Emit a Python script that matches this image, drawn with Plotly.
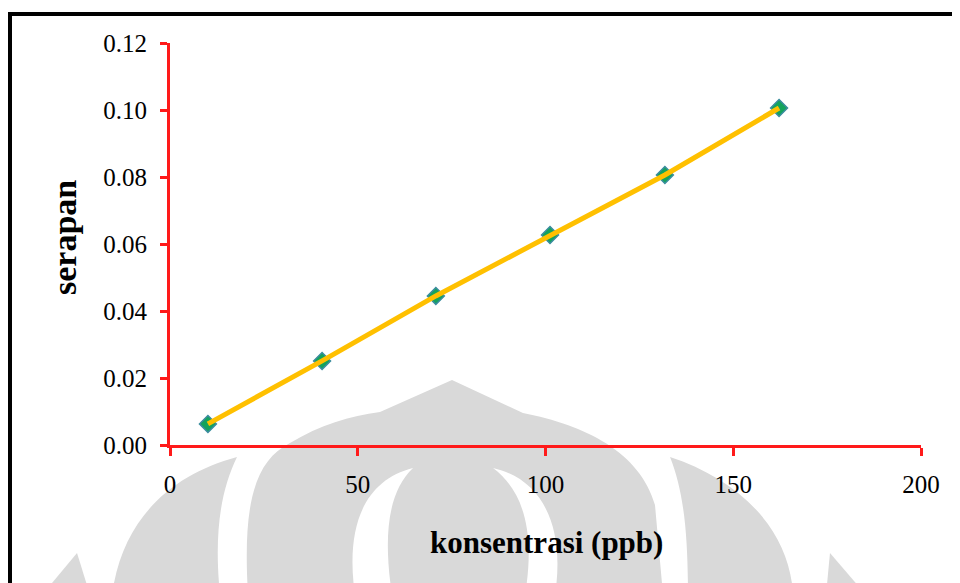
import plotly.graph_objects as go

# ---- data ----
konsentrasi = [10.1, 40.5, 70.8, 101.2, 131.8, 162.2]
serapan = [0.0063, 0.0251, 0.0445, 0.0627, 0.0806, 0.1006]
x_ticks = [0, 50, 100, 150, 200]
y_ticks = [0.00, 0.02, 0.04, 0.06, 0.08, 0.10, 0.12]
y_tick_text = ["0.00", "0.02", "0.04", "0.06", "0.08", "0.10", "0.12"]

OFF = 8  # page body margin in the browser
W, H = 960 - OFF, 583 - OFF
# plot area in reference-image pixels: x 170..921, y 43..445
L, R, T, B = 170 - OFF, W - (921 - OFF), 43 - OFF, H - (445 - OFF)
PW, PH = W - L - R, H - T - B


def px2paper_x(px):
    return (px - OFF - L) / PW


def px2paper_y(py):
    return (H - B - (py - OFF)) / PH


def P(px, py):
    return f"{px2paper_x(px):.4f},{px2paper_y(py):.4f}"


def path(cmds):
    return " ".join(c if isinstance(c, str) else P(*c) for c in cmds)


GRAY = "#d9d9d9"
shapes = []
# watermark (decorative), reference-image pixel coordinates
wm = [
    (["M", (452, 380), "L", (523, 413), "C", (585, 425), (640, 452), (655, 505),
      "L", (663, 595), "L", (248, 595), "C", (243, 510), (252, 462), (290, 443),
      "C", (320, 425), (350, 416), (380, 412), "Z"], GRAY),
    (["M", (413, 468), "C", (365, 480), (345, 525), (355, 595), "L", (392, 595),
      "C", (383, 535), (388, 492), (413, 468), "Z"], "white"),
    (["M", (493, 468), "C", (545, 480), (565, 530), (555, 595), "L", (525, 595),
      "C", (535, 535), (525, 492), (493, 468), "Z"], "white"),
    (["M", (237, 457), "C", (170, 475), (122, 520), (112, 595), "L", (220, 595),
      "C", (214, 535), (220, 492), (237, 457), "Z"], GRAY),
    (["M", (77, 553), "L", (90, 595), "L", (42, 595), "Z"], GRAY),
    (["M", (670, 457), "C", (740, 480), (790, 530), (793, 595), "L", (688, 595),
      "C", (688, 535), (684, 492), (670, 457), "Z"], GRAY),
    (["M", (830, 553), "L", (866, 595), "L", (826, 595), "Z"], GRAY),
]
for cmds, col in wm:
    shapes.append(dict(type="path", xref="paper", yref="paper", path=path(cmds),
                       fillcolor=col, line=dict(width=0), layer="below"))

# black frame (top and left)
shapes.append(dict(type="line", xref="paper", yref="paper",
                   x0=px2paper_x(8), x1=px2paper_x(975),
                   y0=px2paper_y(14), y1=px2paper_y(14),
                   line=dict(color="black", width=4)))
shapes.append(dict(type="line", xref="paper", yref="paper",
                   x0=px2paper_x(10), x1=px2paper_x(10),
                   y0=px2paper_y(12), y1=px2paper_y(600),
                   line=dict(color="black", width=4)))

fig = go.Figure()
fig.add_trace(go.Scatter(
    x=konsentrasi, y=serapan, mode="markers",
    marker=dict(symbol="diamond", size=13, color="#14a35c",
                line=dict(color="#3a8c9e", width=1.5)),
    showlegend=False, cliponaxis=False))
fig.add_trace(go.Scatter(
    x=konsentrasi, y=serapan, mode="lines",
    line=dict(color="#ffc000", width=5),
    showlegend=False, cliponaxis=False))

RED = "#ff1a1a"
FONT = "Liberation Serif"
fig.update_layout(
    width=W, height=H,
    margin=dict(l=L, r=R, t=T, b=B, autoexpand=False),
    paper_bgcolor="white", plot_bgcolor="rgba(0,0,0,0)",
    font=dict(family=FONT, size=25, color="black"),
    shapes=shapes,
    xaxis=dict(range=[0, 200], tickvals=x_ticks, showgrid=False, zeroline=False,
               showline=True, linecolor=RED, linewidth=3,
               ticks="outside", ticklen=8, tickwidth=3, tickcolor=RED,
               ticklabelstandoff=7, tickfont=dict(family=FONT, size=25)),
    yaxis=dict(range=[0, 0.12], tickvals=y_ticks, ticktext=y_tick_text,
               showgrid=False, zeroline=False,
               showline=True, linecolor=RED, linewidth=3,
               ticks="outside", ticklen=7, tickwidth=3, tickcolor=RED,
               ticklabelstandoff=8, tickfont=dict(family=FONT, size=25)),
    annotations=[
        dict(text="<b>konsentrasi (ppb)</b>", xref="paper", yref="paper",
             x=px2paper_x(546), y=px2paper_y(542), xanchor="center", yanchor="middle",
             showarrow=False, font=dict(family=FONT, size=31, color="black")),
        dict(text="<b>serapan</b>", xref="paper", yref="paper",
             x=px2paper_x(65), y=px2paper_y(238), xanchor="center", yanchor="middle",
             showarrow=False, textangle=-90,
             font=dict(family=FONT, size=34, color="black")),
    ],
)

fig.write_html("out.html")
